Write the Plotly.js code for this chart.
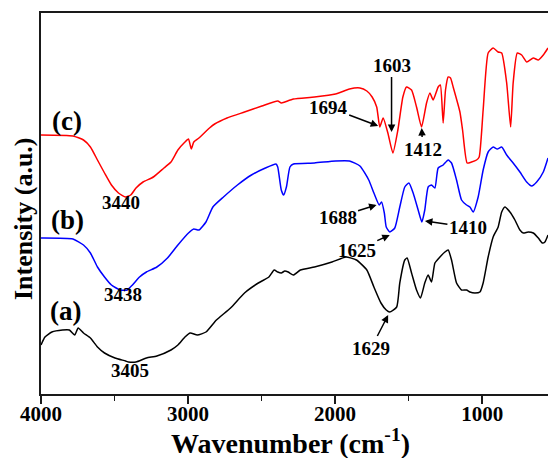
<!DOCTYPE html>
<html>
<head>
<meta charset="utf-8">
<script src="https://cdn.plot.ly/plotly-3.0.1.min.js"></script>
<style>html,body{margin:0;padding:0;background:#fff;}#chart{width:548px;height:458px;}</style>
</head>
<body>
<div id="chart"></div>
<script>
// (a) black
const wnA = [4000,3973,3926,3854,3807,3771,3747,3711,3664,3616,3568,3497,3425,3405,3354,3283,3212,3116,3069,3021,2985,2937,2878,2807,2711,2616,2522,2450,2414,2390,2366,2342,2319,2283,2236,2140,2021,1926,1855,1784,1736,1688,1652,1629,1581,1560,1526,1510,1480,1446,1419,1390,1367,1344,1321,1287,1253,1231,1208,1174,1140,1106,1083,1049,1015,993,959,925,891,867,845,811,777,743,720,686,652,618,591,573,552];
const intA = [49,57,62,64,64,59,66,61,56,47,41,36,33,32,32,36,38,44,49,57,61,59,62,74,86,101,111,117,124,122,121,123,122,119,124,127,132,137,134,124,107,91,84,82,87,111,134,136,121,104,96,111,119,112,131,137,142,144,134,111,104,104,102,101,102,111,137,157,167,182,187,182,174,164,161,162,161,156,151,152,159];
// (b) blue
const wnB = [4000,3783,3711,3664,3616,3568,3521,3462,3414,3378,3330,3283,3212,3140,3069,2997,2961,2926,2878,2831,2759,2664,2569,2474,2402,2390,2366,2350,2331,2307,2283,2140,1997,1902,1831,1771,1736,1700,1684,1665,1652,1628,1594,1560,1526,1498,1469,1435,1410,1390,1367,1344,1321,1299,1265,1231,1208,1174,1140,1106,1083,1061,1027,993,959,925,897,867,833,789,743,697,663,629,584,552];
const intB = [156,155,149,141,127,117,109,104,104,109,117,122,127,136,149,161,165,164,172,187,197,209,219,226,230,227,204,199,207,227,230,231,233,233,228,214,201,189,192,181,167,162,166,187,207,211,201,184,172,184,207,209,206,226,229,234,231,214,194,189,187,182,197,224,242,247,245,247,239,231,222,212,208,212,222,236];
// (c) red
const wnC = [4000,3783,3711,3664,3616,3568,3521,3473,3425,3390,3354,3306,3236,3164,3116,3069,3021,2997,2978,2961,2926,2854,2819,2735,2616,2498,2390,2366,2342,2283,2140,1997,1902,1831,1784,1748,1717,1696,1673,1641,1607,1573,1539,1514,1480,1446,1412,1378,1355,1333,1299,1284,1265,1249,1231,1215,1197,1151,1133,1102,1072,1038,1020,993,959,925,891,867,833,806,789,761,731,697,652,618,584,552];
const intC = [259,258,254,247,234,221,209,201,197,199,206,212,217,226,232,244,252,255,245,252,256,266,270,276,282,288,293,291,292,295,297,300,305,306,303,297,287,267,276,261,241,264,297,307,304,287,267,291,301,294,307,309,271,304,317,316,307,282,264,231,232,234,237,284,341,346,342,341,311,267,311,341,339,332,336,334,339,346];

const seriesNames = ['(a)','(b)','(c)'];
const xTickVals = [4000,3000,2000,1000];
const xTickText = ['4000','3000','2000','1000'];

const FONT = 'Liberation Serif, Times New Roman, serif';
const AX = '#1a1a1a';

function tr(x,y,c,n){return {x:x,y:y,type:'scatter',mode:'lines',name:n,
  line:{color:c,width:1.5,shape:'spline',smoothing:0.5},hoverinfo:'skip'};}

const data = [tr(wnA,intA,'#000000',seriesNames[0]), tr(wnB,intB,'#0000ff',seriesNames[1]), tr(wnC,intC,'#ff0000',seriesNames[2])];

function lbl(x,y,t,size){return {x:x,y:y,xref:'x',yref:'y',text:t,showarrow:false,
  font:{family:FONT,size:size,color:'#000',weight:'bold'},xanchor:'center',yanchor:'middle'};}
function arr(x,y,t,ax,ay){return {x:x,y:y,xref:'x',yref:'y',text:t,showarrow:true,ax:ax,ay:ay,
  arrowhead:2,arrowsize:1,arrowwidth:1.5,arrowcolor:'#000',standoff:0,
  font:{family:FONT,size:19,color:'#000',weight:'bold'}};}

const layout = {
  width:548, height:458,
  margin:{l:41,r:0,t:13,b:64},
  paper_bgcolor:'#fff', plot_bgcolor:'#fff',
  showlegend:false,
  xaxis:{range:[4000,552], autorange:false, tickvals:xTickVals, ticktext:xTickText,
    ticks:'outside', ticklen:8, tickwidth:2, tickcolor:AX, ticklabelstandoff:-8,
    minor:{tickvals:[3500,2500,1500], ticks:'outside', ticklen:5, tickwidth:1.5, tickcolor:AX},
    showline:true, linewidth:2, linecolor:AX, mirror:true, showgrid:false, zeroline:false,
    tickfont:{family:FONT,size:21,color:'#000',weight:'bold'}},
  yaxis:{range:[0,381], autorange:false, showticklabels:false, ticks:'',
    showline:true, linewidth:2, linecolor:AX, mirror:false, showgrid:false, zeroline:false},
  annotations:[
    {xref:'paper',yref:'paper',x:0.493,y:-0.124,xanchor:'center',yanchor:'middle',showarrow:false,
     text:'Wavenumber (cm<sup>-1</sup>)',font:{family:FONT,size:28,color:'#000',weight:'bold'}},
    {xref:'paper',yref:'paper',x:-0.035,y:0.46,xanchor:'center',yanchor:'middle',showarrow:false,textangle:-90,
     text:'Intensity (a.u.)',font:{family:FONT,size:26,color:'#000',weight:'bold'}},
    lbl(3823,273,'(c)',27), lbl(3823,174,'(b)',27), lbl(3833,83,'(a)',27),
    lbl(3459,192,'3440',19), lbl(3445,100,'3438',19), lbl(3394,24,'3405',19),
    arr(1616,262,'1603',0,-67),
    arr(1707,268,'1694',-50,-19),
    arr(1411,266,'1412',1,21),
    arr(1718,189,'1688',-39,12),
    arr(1389,173,'1410',43,6),
    arr(1628,159,'1625',-33,15),
    arr(1639,79,'1629',-17,33)
  ]
};
Plotly.newPlot('chart', data, layout, {displayModeBar:false, staticPlot:true});
</script>
</body>
</html>
